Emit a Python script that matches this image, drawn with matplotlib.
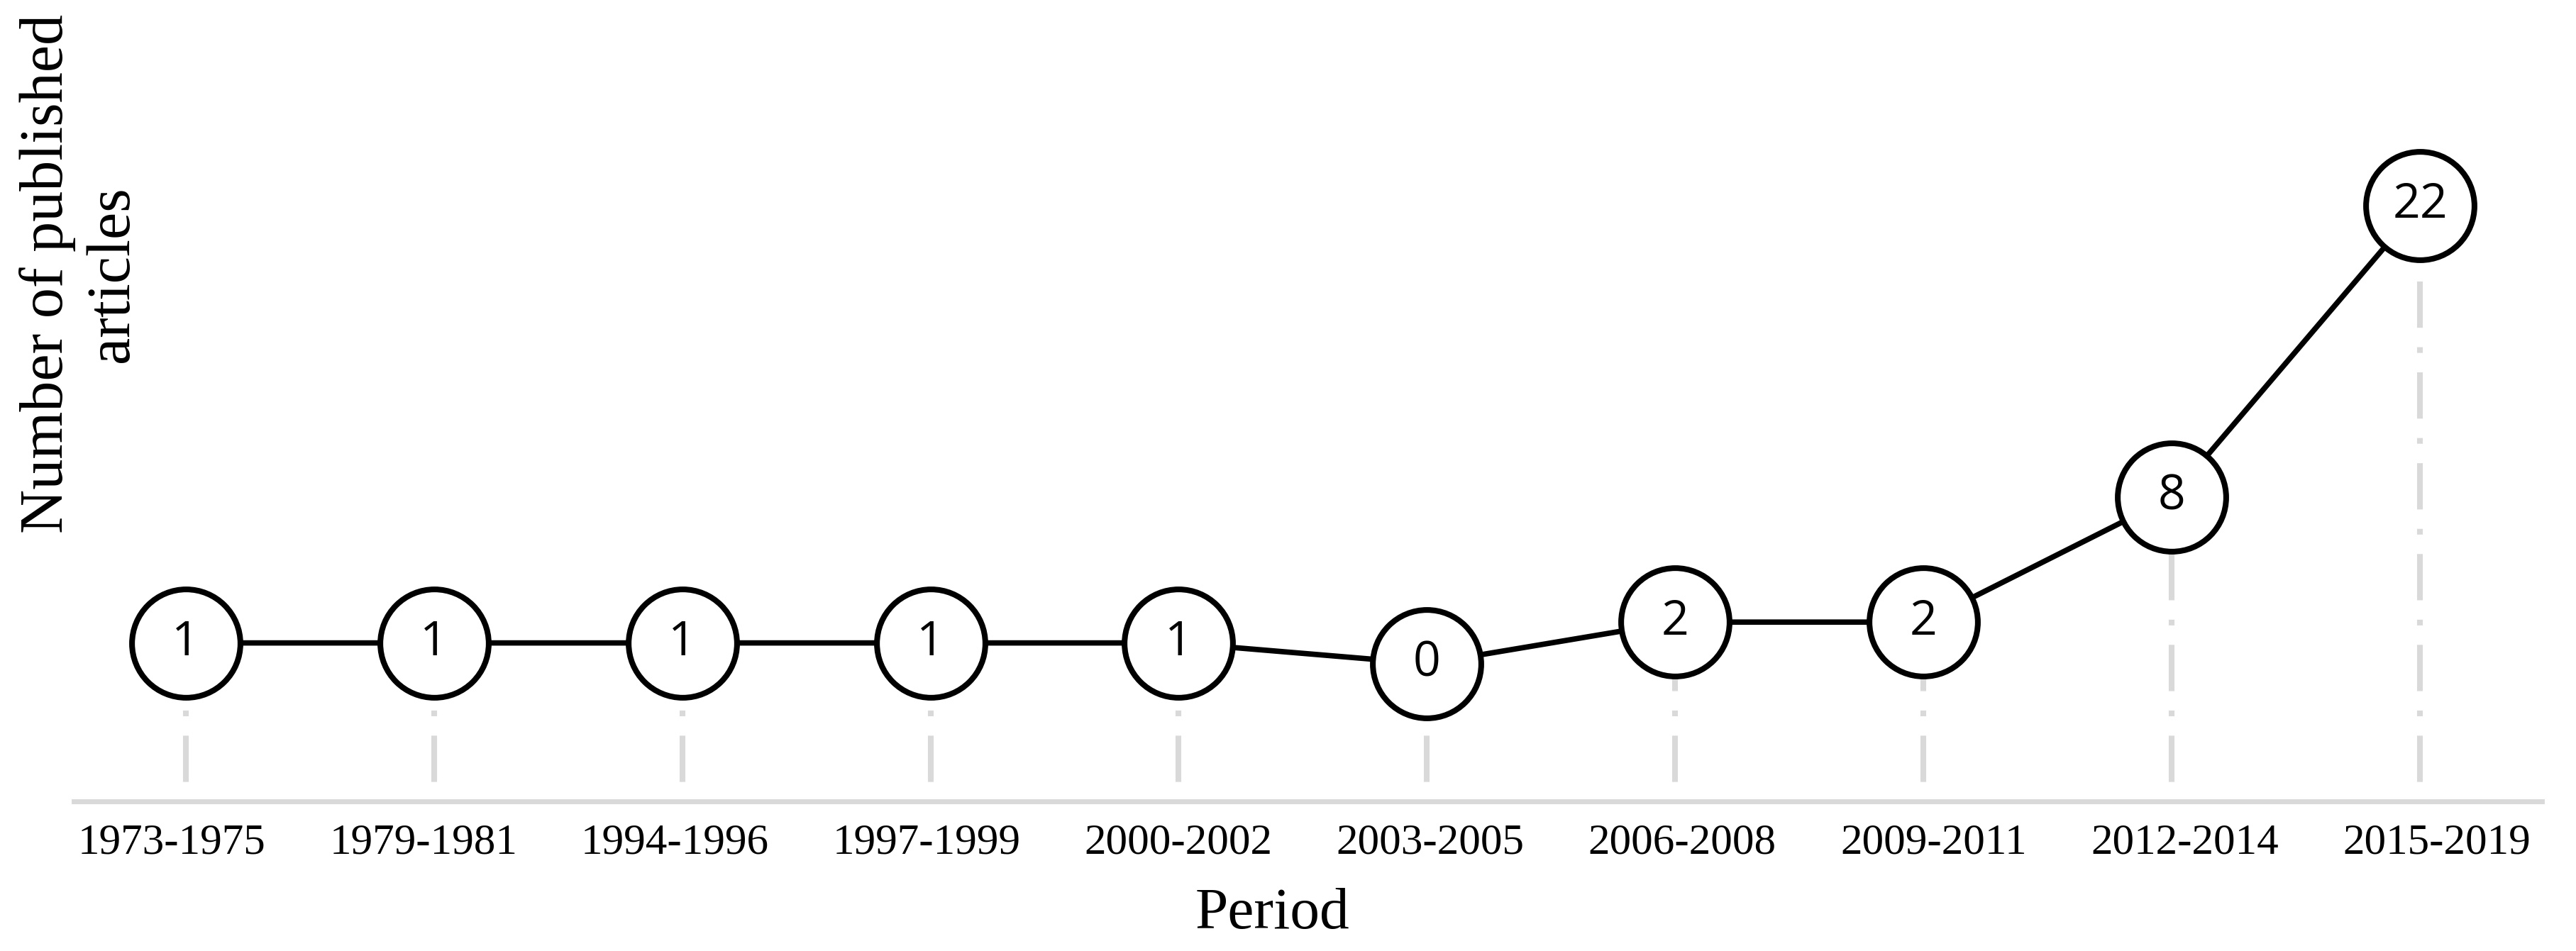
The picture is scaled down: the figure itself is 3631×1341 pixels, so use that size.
import numpy as np
import matplotlib
matplotlib.use('Agg')
import matplotlib.pyplot as plt

# Datos
periods = ['1973-1975', '1979-1981', '1994-1996', '1997-1999', '2000-2002',
           '2003-2005', '2006-2008', '2009-2011', '2012-2014', '2015-2019']
articles = [1, 1, 1, 1, 1, 0, 2, 2, 8, 22]

grey = '#d9d9d9'
serif = ['Liberation Serif', 'DejaVu Serif']

fig = plt.figure(figsize=(36.31, 13.41), dpi=100)
ax = fig.add_axes([0.0287, 0.157, 0.958, 0.843])

x = np.arange(len(periods))
ax.set_xlim(-0.45, 9.49)
ax.set_ylim(-6.62, 31.86)
y0 = ax.get_ylim()[0]

# Lineas de caida (gris, raya-punto)
for xi, v in zip(x, articles):
    ax.plot([xi, xi], [y0, v], color=grey, lw=5.8,
            linestyle=(12.5, (8.1, 3.4, 1, 3.4)), dash_capstyle='butt', zorder=1)

# Serie principal con circulos
ax.plot(x, articles, color='black', lw=5.5, marker='o', markersize=110,
        markerfacecolor='white', markeredgecolor='black', markeredgewidth=5.8, zorder=3)
for xi, v in zip(x, articles):
    ax.text(xi, v, str(v), ha='center', va='center', fontsize=49,
            family=['Open Sans', 'DejaVu Sans'], zorder=4)

# Ejes
for s in ['left', 'top', 'right']:
    ax.spines[s].set_visible(False)
ax.spines['bottom'].set_color(grey)
ax.spines['bottom'].set_linewidth(5)
ax.set_yticks([])
ax.set_xticks([])

# etiquetas de categoria (en Excel quedan algo mas separadas que los puntos)
lab = ax.twiny()
lab.set_xlim(-0.389, 9.417)
lab.xaxis.set_ticks_position('bottom')
for s in lab.spines.values():
    s.set_visible(False)
lab.set_xticks(x)
lab.set_xticklabels(periods, fontsize=44, family=serif)
lab.tick_params(axis='x', length=0, pad=22)

fig.text(0.494, 0.024, 'Period', fontsize=60, family=serif, ha='center', va='baseline')
fig.text(0.0312, 0.712, 'Number of published\narticles', fontsize=62, family=serif,
         rotation=90, ha='center', va='center', multialignment='center', linespacing=1.2)

fig.savefig('out.png', dpi=100, facecolor='white')
